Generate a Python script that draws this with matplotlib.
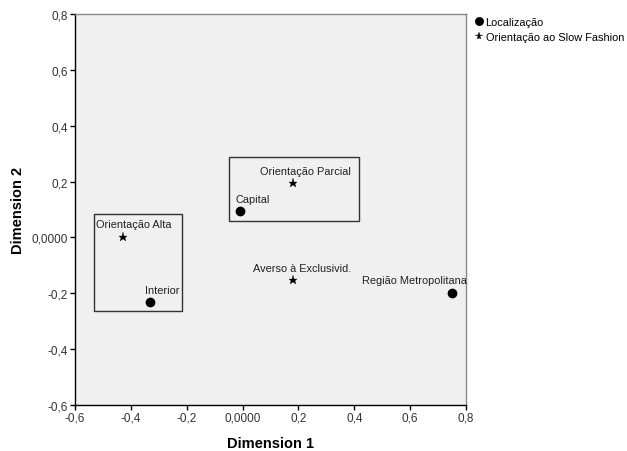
import matplotlib.pyplot as plt
from matplotlib.patches import Rectangle

plt.rcParams['font.family'] = ['Liberation Sans', 'DejaVu Sans']

# Localização points
loc_names = ['Capital', 'Interior', 'Região Metropolitana']
loc_x = [-0.009, -0.331, 0.751]
loc_y = [0.095, -0.230, -0.200]

# Orientação ao Slow Fashion points
ori_names = ['Orientação Parcial', 'Orientação Alta', 'Averso à Exclusivid.']
ori_x = [0.182, -0.427, 0.179]
ori_y = [0.194, 0.000, -0.151]

ticks = [-0.6, -0.4, -0.2, 0.0, 0.2, 0.4, 0.6, 0.8]
tick_labels = ['-0,6', '-0,4', '-0,2', '0,0000', '0,2', '0,4', '0,6', '0,8']

# grouping boxes drawn on the chart (x0, y0, x1, y1)
boxes = [(-0.050, 0.058, 0.418, 0.288), (-0.533, -0.262, -0.216, 0.084)]

# label offsets in pixels (left edge, baseline)
loc_off = [(-5, 9), (-5, 9), (-90, 10)]
ori_off = [(-33, 9), (-27, 10), (-40, 9)]

fig = plt.figure(figsize=(6.27, 4.52), dpi=100)
ax = fig.add_axes([0.1196, 0.1018, 0.6236, 0.865])
ax.set_facecolor('#f0f0f0')

ax.plot(loc_x, loc_y, 'o', color='black', markersize=6, linestyle='none')
ax.plot(ori_x, ori_y, '*', color='black', markersize=6.5, markeredgewidth=0.2,
        linestyle='none')

for n, x, y, off in zip(loc_names, loc_x, loc_y, loc_off):
    ax.annotate(n, (x, y), xytext=off, textcoords='offset pixels',
                ha='left', va='baseline', fontsize=7.9, color='#222222')
for n, x, y, off in zip(ori_names, ori_x, ori_y, ori_off):
    ax.annotate(n, (x, y), xytext=off, textcoords='offset pixels',
                ha='left', va='baseline', fontsize=7.9, color='#222222')

for x0, y0, x1, y1 in boxes:
    ax.add_patch(Rectangle((x0, y0), x1 - x0, y1 - y0, fill=False,
                           edgecolor='#333333', linewidth=1.0))

ax.set_xlim(-0.6, 0.8)
ax.set_ylim(-0.6, 0.8)
ax.set_xticks(ticks)
ax.set_xticklabels(tick_labels)
ax.set_yticks(ticks)
ax.set_yticklabels(tick_labels)
ax.tick_params(direction='out', length=3.5, width=1, labelsize=8.5,
               pad=1.5, colors='black', labelcolor='#333333')

ax.spines['left'].set_color('black')
ax.spines['bottom'].set_color('black')
ax.spines['top'].set_color('#888888')
ax.spines['right'].set_color('#888888')
for s in ax.spines.values():
    s.set_linewidth(1.0)

ax.set_xlabel('Dimension 1', fontsize=10.5, fontweight='bold', labelpad=9)
ax.set_ylabel('Dimension 2', fontsize=10.5, fontweight='bold', labelpad=5)

# legend outside on the right
fig.legend(handles=ax.lines, labels=['Localização', 'Orientação ao Slow Fashion'],
           loc='upper left', bbox_to_anchor=(0.750, 0.972), frameon=False,
           fontsize=7.9, handlelength=0.6, handletextpad=0.3,
           borderpad=0, labelspacing=0.4, markerscale=0.9)

fig.savefig('out.png', dpi=100)
